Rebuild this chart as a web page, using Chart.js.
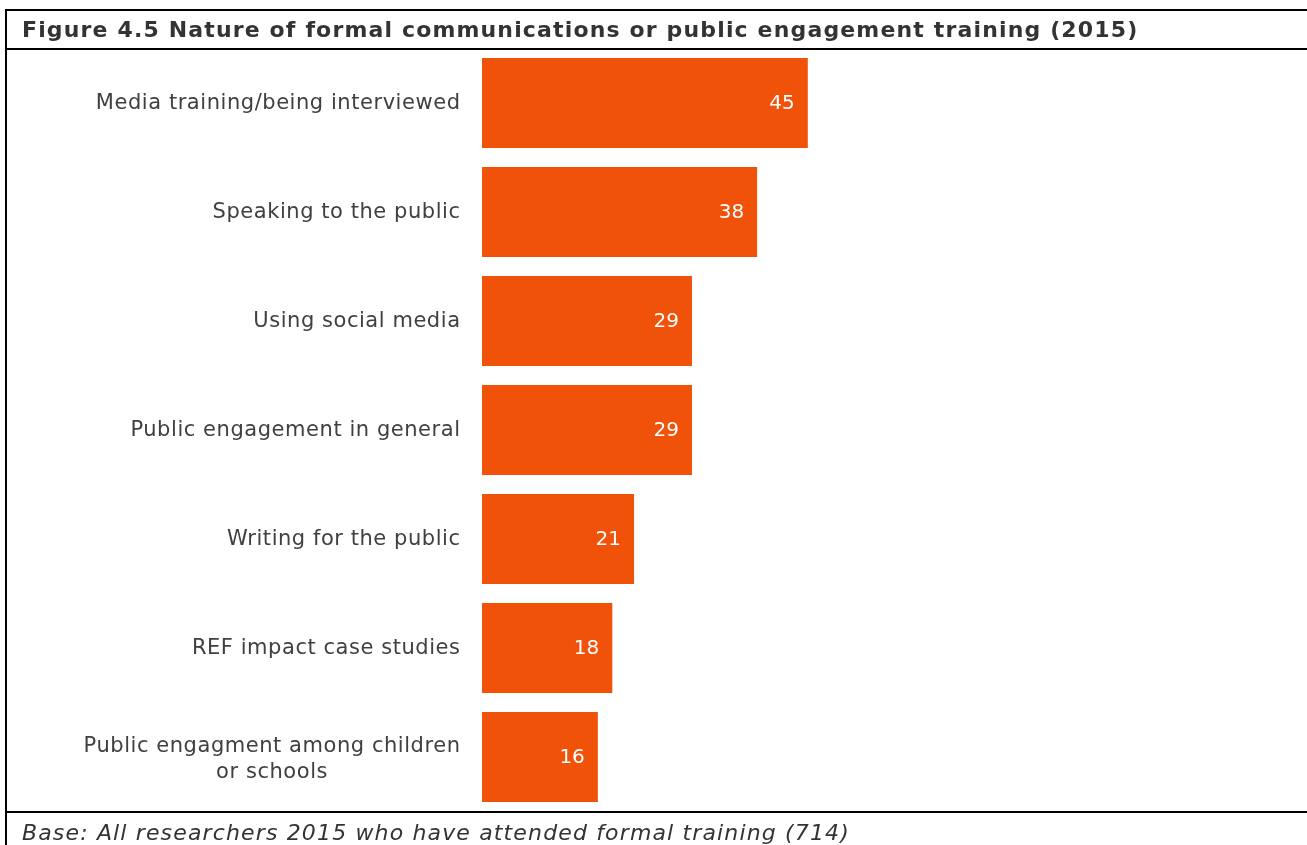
<!DOCTYPE html>
<html>
<head>
<meta charset="utf-8">
<script src="https://cdn.jsdelivr.net/npm/chart.js@4"></script>
<style>
  html, body { margin: 0; padding: 0; background: #fff; }
  body { width: 1307px; height: 845px; position: relative; overflow: hidden; font-family: "DejaVu Sans", Verdana, sans-serif; }
  #frame { position: absolute; left: 5px; top: 9px; width: 1310px; height: 840px; border-left: 2px solid #000; border-top: 2px solid #000; }
  #title { position: absolute; left: 22px; top: 17px; font-weight: bold; font-size: 22px; letter-spacing: 1.15px; color: #333; white-space: nowrap; }
  #titleLine { position: absolute; left: 5px; top: 48px; width: 1310px; height: 2px; background: #000; }
  #footLine { position: absolute; left: 5px; top: 811px; width: 1310px; height: 2px; background: #000; }
  #foot { position: absolute; left: 22px; top: 820px; font-style: italic; font-size: 22px; letter-spacing: 1.15px; color: #333; white-space: nowrap; }
  #wrap { position: absolute; left: 0; top: 0; width: 1307px; height: 845px; }
</style>
</head>
<body>
<div id="wrap"><canvas id="chart"></canvas></div>
<div id="frame"></div>
<div id="titleLine"></div>
<div id="footLine"></div>
<div id="title">Figure 4.5 Nature of formal communications or public engagement training (2015)</div>
<div id="foot">Base: All researchers 2015 who have attended formal training (714)</div>
<script>
// categories and percentages
const categories = [
  ['Media training/being interviewed'],
  ['Speaking to the public'],
  ['Using social media'],
  ['Public engagement in general'],
  ['Writing for the public'],
  ['REF impact case studies'],
  ['Public engagment among children', 'or schools']
];
const values = [45, 38, 29, 29, 21, 18, 16];

const barColor = '#F0520A';
const labelFont = '21px "DejaVu Sans", Verdana, sans-serif';
const valueFont = '20px "DejaVu Sans", Verdana, sans-serif';

// category labels, lines centred on each other, right edge at the axis padding
const categoryLabels = {
  id: 'categoryLabels',
  afterDraw(chart) {
    const ctx = chart.ctx;
    const y = chart.scales.y;
    const spacing = 0.55;
    ctx.save();
    ctx.font = labelFont;
    ctx.letterSpacing = spacing + 'px';
    ctx.fillStyle = '#404040';
    ctx.textBaseline = 'middle';
    ctx.textAlign = 'center';
    const right = y.right - 22 + spacing;
    const lineH = 26;
    categories.forEach((lines, i) => {
      const n = lines.length - 1;
      const cy = y.getPixelForValue(i) + 0.5 + n * 2;
      const w = Math.max(...lines.map(l => ctx.measureText(l).width));
      const cx = right - w / 2;
      const top = cy - n * lineH / 2;
      lines.forEach((l, j) => ctx.fillText(l, cx, top + j * lineH));
    });
    ctx.restore();
  }
};

// value labels inside the end of each bar
const valueLabels = {
  id: 'valueLabels',
  afterDatasetsDraw(chart) {
    const ctx = chart.ctx;
    const meta = chart.getDatasetMeta(0);
    ctx.save();
    ctx.font = valueFont;
    ctx.fillStyle = '#fff';
    ctx.textAlign = 'right';
    ctx.textBaseline = 'middle';
    meta.data.forEach((bar, i) => {
      ctx.fillText(String(values[i]), bar.x - 13, bar.y + 1);
    });
    ctx.restore();
  }
};

new Chart(document.getElementById('chart'), {
  type: 'bar',
  data: {
    labels: categories.map(c => c.join(' ')),
    datasets: [{
      data: values,
      backgroundColor: barColor,
      borderWidth: 0,
      barPercentage: 0.826,
      categoryPercentage: 1
    }]
  },
  options: {
    indexAxis: 'y',
    responsive: true,
    maintainAspectRatio: false,
    animation: false,
    layout: { padding: { left: 0, right: 101, top: 48.5, bottom: 33.5 } },
    plugins: { legend: { display: false }, tooltip: { enabled: false }, title: { display: false } },
    scales: {
      x: { display: false, min: 0, max: 100 },
      y: {
        afterFit(scale) { scale.width = 482; },
        grid: { display: false, drawTicks: false },
        border: { display: false },
        ticks: { display: false }
      }
    }
  },
  plugins: [categoryLabels, valueLabels]
});
</script>
</body>
</html>
